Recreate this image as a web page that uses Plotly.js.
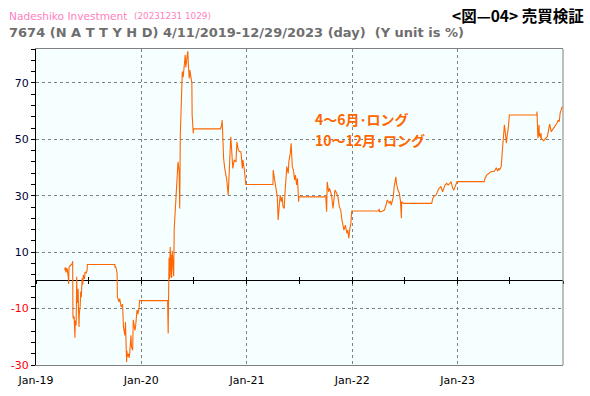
<!DOCTYPE html>
<html><head><meta charset="utf-8">
<script src="https://cdn.plot.ly/plotly-3.0.1.min.js"></script>
<style>html,body{margin:0;padding:0;background:#fff}#chart{width:590px;height:396px}</style>
</head><body><div id="chart"></div>
<script>
// ---- data ----
const dates = [
"2019-04-11","2019-04-12","2019-04-15","2019-04-16","2019-04-18","2019-04-19","2019-04-23","2019-04-24","2019-04-25","2019-04-26",
"2019-05-07","2019-05-08","2019-05-09","2019-05-10","2019-05-13","2019-05-14","2019-05-15","2019-05-16","2019-05-17","2019-05-20",
"2019-05-21","2019-05-22","2019-05-23","2019-05-24","2019-05-27","2019-05-28","2019-05-30","2019-05-31","2019-06-03","2019-06-05",
"2019-06-07","2019-06-10","2019-06-12","2019-06-14","2019-06-18","2019-06-20","2019-06-24","2019-06-27","2019-06-28","2019-09-30",
"2019-10-01","2019-10-02","2019-10-04","2019-10-09","2019-10-10","2019-10-15","2019-10-18","2019-10-23","2019-10-28","2019-10-31",
"2019-11-05","2019-11-07","2019-11-08","2019-11-11","2019-11-12","2019-11-14","2019-11-18","2019-11-20","2019-11-22","2019-11-26",
"2019-11-28","2019-12-02","2019-12-04","2019-12-06","2019-12-10","2019-12-12","2019-12-17","2019-12-20","2019-12-24","2019-12-26",
"2019-12-27","2020-04-01",
"2020-04-03","2020-04-06","2020-04-07","2020-04-08","2020-04-10","2020-04-13","2020-04-14","2020-04-15","2020-04-17","2020-04-20",
"2020-04-22","2020-04-24","2020-04-28","2020-05-01","2020-05-07","2020-05-11","2020-05-13","2020-05-15","2020-05-20","2020-05-22",
"2020-05-25","2020-05-28","2020-06-01","2020-06-03","2020-06-05","2020-06-08","2020-06-10","2020-06-12","2020-06-15","2020-06-17",
"2020-06-19","2020-06-24","2020-06-25","2020-06-26","2020-06-29","2020-06-30","2020-10-01",
"2020-10-05","2020-10-07","2020-10-09","2020-10-12","2020-10-16","2020-10-20","2020-10-23","2020-10-28","2020-10-30","2020-11-03",
"2020-11-06","2020-11-10","2020-11-13","2020-11-18","2020-11-24","2020-11-27","2020-12-02","2020-12-07","2020-12-11","2020-12-16",
"2020-12-18","2020-12-23","2020-12-28","2021-04-01",
"2021-04-02","2021-04-06","2021-04-09","2021-04-13","2021-04-16","2021-04-19","2021-04-22","2021-04-26","2021-04-30","2021-05-03",
"2021-05-06","2021-05-10","2021-05-13","2021-05-17","2021-05-19","2021-05-24","2021-05-26","2021-05-31","2021-06-03","2021-06-07",
"2021-06-11","2021-06-15","2021-06-18","2021-06-22","2021-06-25","2021-06-29","2021-06-30","2021-10-01",
"2021-10-04","2021-10-06","2021-10-11","2021-10-14","2021-10-18","2021-10-21","2021-10-26","2021-10-29","2021-11-02","2021-11-08",
"2021-11-12","2021-11-17","2021-11-22","2021-11-26","2021-11-30","2021-12-03","2021-12-08","2021-12-13","2021-12-16","2021-12-20",
"2021-12-23","2021-12-27","2021-12-30","2022-04-01",
"2022-04-04","2022-04-06","2022-04-15","2022-04-22","2022-04-28","2022-05-02","2022-05-09","2022-05-13","2022-05-16","2022-05-23",
"2022-05-26","2022-05-30","2022-06-01","2022-06-03","2022-06-08","2022-06-13","2022-06-17","2022-06-20","2022-06-21","2022-06-27",
"2022-10-03",
"2022-10-07","2022-10-12","2022-10-18","2022-10-24","2022-10-28","2022-11-04","2022-11-10","2022-11-14","2022-11-18","2022-11-24",
"2022-11-29","2022-12-05","2022-12-09","2022-12-15","2022-12-19","2022-12-23","2022-12-27","2022-12-30","2023-04-03",
"2023-04-06","2023-04-12","2023-04-20","2023-04-26","2023-05-08","2023-05-11","2023-05-15","2023-05-19","2023-05-24","2023-05-26",
"2023-06-01","2023-06-05","2023-06-08","2023-06-12","2023-06-14","2023-06-19","2023-06-21","2023-06-26","2023-06-29","2023-10-02",
"2023-10-03","2023-10-04","2023-10-05","2023-10-06","2023-10-10","2023-10-11","2023-10-12","2023-10-13","2023-10-16","2023-10-17",
"2023-10-18","2023-10-26","2023-10-30","2023-11-03","2023-11-08","2023-11-13","2023-11-16","2023-11-21","2023-11-27","2023-12-01",
"2023-12-05","2023-12-11","2023-12-15","2023-12-19","2023-12-22","2023-12-29"
];
const returns = [
3.6,4.6,2.8,4.4,3.2,4.2,1.0,-1.3,3.5,4.8,
6.0,6.8,-12.5,-13.5,-12.8,-15.5,-13.0,-20.3,-14.2,-16.0,
-9.0,1.3,-6.6,-8.0,-3.0,-9.5,-16.5,-12.0,-9.2,-4.0,
-6.0,0.7,-1.5,1.9,0.5,3.0,2.6,3.5,5.6,5.6,
5.6,4.5,5.0,2.5,-5.8,-7.6,-6.5,-9.4,-8.5,-16.5,
-19.5,-14.8,-24.1,-28.9,-25.0,-27.0,-26.0,-27.5,-25.5,-19.5,
-23.6,-24.8,-14.0,-15.5,-17.7,-16.5,-10.5,-12.0,-10.0,-7.0,
-7.2,-7.2,
-18.8,8.0,0.5,2.0,11.8,1.0,9.0,0.8,10.5,3.0,
1.5,18.4,25.5,33.8,42.0,38.5,25.5,51.5,63.3,74.0,
72.0,76.3,79.9,75.5,78.0,80.0,81.3,76.3,71.6,74.5,
72.8,69.9,58.6,55.0,52.1,53.7,53.7,
55.0,56.8,51.5,43.3,39.7,38.0,35.6,30.2,38.5,44.4,
50.9,43.3,39.7,42.7,42.0,49.1,46.2,45.6,45.6,39.7,
42.7,39.1,34.0,34.0,
39.1,36.2,33.8,32.6,29.6,21.4,24.9,30.2,27.9,29.6,
26.1,25.5,31.4,36.7,40.3,37.9,42.0,45.0,48.6,40.3,
39.1,35.6,37.3,33.8,36.2,27.9,29.6,29.6,
24.3,34.9,31.4,32.6,30.9,30.2,25.5,29.6,32.0,30.9,
29.6,26.1,24.9,21.4,19.0,17.8,19.6,16.7,17.8,14.9,
18.0,20.2,24.6,24.6,
25.3,24.3,24.5,24.9,26.7,28.5,27.3,28.2,26.7,29.6,
33.2,35.0,36.7,34.4,32.0,30.9,27.9,22.0,27.9,27.3,
27.3,
29.1,29.9,30.2,31.4,32.6,33.2,31.4,32.6,33.8,34.4,
33.8,34.4,35.0,32.6,32.0,33.2,34.4,35.0,35.0,
36.2,37.3,37.9,38.5,38.7,39.1,39.9,38.7,39.7,39.1,
40.3,46.2,52.1,55.1,53.3,48.6,50.9,54.5,58.6,58.6,
59.8,56.8,53.3,50.4,55.1,51.0,53.5,52.1,50.4,52.1,
50.2,49.5,50.0,50.4,51.0,53.9,55.4,52.7,53.6,53.9,
54.7,55.7,56.8,56.2,59.2,61.6
];
const yTickVals = [-30, -10, 10, 30, 50, 70];
const xTickVals = ["2019-01-01", "2020-01-01", "2021-01-01", "2022-01-01", "2023-01-01"];
const xRange = ["2019-01-01", "2024-01-01"];
const yRange = [-30, 82];
const titleLine1 = "Nadeshiko Investment";
const titleStamp = "(20231231 1029)";
const titleLine2 = "7674 (N A T T Y H D) 4/11/2019-12/29/2023 (day)  (Y unit is %)";
const figTitle = "<図—04> 売買検証";
const noteLines = ["4～6月･ロング", "10～12月･ロング"];

// ---- layout helpers ----
const W = 590, H = 396, L = 36, R = 27, T = 49, B = 31;
const pw = W - L - R, ph = H - T - B;
const px2x = p => (p - L) / pw;
const py2y = p => (H - B - p) / ph;
const yTickText = yTickVals.map(v => v < 0 ? '<span style="color:#ff0000">' + v + '</span>' : String(v));
const zeroPos = (0 - yRange[0]) / (yRange[1] - yRange[0]);

const latin = "DejaVu Sans, Verdana, sans-serif";
const cjk = "Noto Sans CJK JP, sans-serif";

const mainTrace = {
  x: dates, y: returns, type: 'scatter', mode: 'lines',
  line: {color: '#ff6600', width: 1.1}, hoverinfo: 'skip', showlegend: false
};
// invisible copies so the zero-line tick axes get drawn
const ghost = ax => ({x: dates, y: returns, xaxis: ax, yaxis: 'y', type: 'scatter', mode: 'lines',
  line: {width: 0, color: 'rgba(0,0,0,0)'}, opacity: 0, hoverinfo: 'skip', showlegend: false});

const tickAxis = (side) => ({
  type: 'date', overlaying: 'x', anchor: 'free', position: zeroPos,
  range: xRange, tick0: '2019-01-01', dtick: 'M6', ticks: side, ticklen: 3, tickwidth: 1,
  tickcolor: '#000', showticklabels: false, showgrid: false, showline: false, zeroline: false
});

const layout = {
  width: W, height: H,
  margin: {l: L, r: R, t: T, b: B, pad: 0},
  paper_bgcolor: '#ffffff', plot_bgcolor: '#f5ffff',
  showlegend: false,
  xaxis: {
    type: 'date', range: xRange, tickmode: 'array', tickvals: xTickVals, tickformat: '%b-%y',
    showgrid: true, gridcolor: '#808080', griddash: '3px,3px', gridwidth: 1,
    showline: true, linecolor: '#808080', linewidth: 1, mirror: true,
    ticks: '', zeroline: false, ticklabelstandoff: 5,
    tickfont: {family: latin, size: 11, color: '#000000'}
  },
  xaxis2: tickAxis('outside'),
  xaxis3: tickAxis('inside'),
  yaxis: {
    range: yRange, tickmode: 'array', tickvals: yTickVals, ticktext: yTickText,
    showgrid: true, gridcolor: '#808080', griddash: '3px,3px', gridwidth: 1,
    showline: true, linecolor: '#000000', linewidth: 1,
    ticks: 'outside', ticklen: 4, tickcolor: '#000', tickwidth: 1,
    minor: {tick0: -30, dtick: 4, ticks: 'outside', ticklen: 4, tickcolor: '#000', showgrid: false},
    zeroline: true, zerolinecolor: '#000000', zerolinewidth: 1,
    tickfont: {family: latin, size: 11, color: '#000033'}
  },
  shapes: [
    {type: 'line', xref: 'paper', yref: 'paper', x0: 1, x1: 1, y0: 0, y1: 1, line: {color: '#808080', width: 1}}
  ],
  annotations: [
    {text: titleLine1, xref: 'paper', yref: 'paper', x: px2x(7), y: py2y(16), xanchor: 'left', yanchor: 'middle',
     showarrow: false, font: {family: latin, size: 10.6, color: '#ff80c0'}},
    {text: titleStamp, xref: 'paper', yref: 'paper', x: px2x(132), y: py2y(16.5), xanchor: 'left', yanchor: 'middle',
     showarrow: false, font: {family: latin, size: 8.8, color: '#ff80c0'}},
    {text: '<b>' + titleLine2 + '</b>', xref: 'paper', yref: 'paper', x: px2x(7), y: py2y(33), xanchor: 'left', yanchor: 'middle',
     showarrow: false, font: {family: latin, size: 13, color: '#6e6e6e'}},
    {text: '<b>' + figTitle + '</b>', xref: 'paper', yref: 'paper', x: px2x(586), y: py2y(15), xanchor: 'right', yanchor: 'middle',
     showarrow: false, font: {family: cjk, size: 15.5, color: '#000000'}},
    {text: '<b>' + noteLines[0] + '</b>', xref: 'paper', yref: 'paper', x: px2x(313), y: py2y(119), xanchor: 'left', yanchor: 'middle',
     showarrow: false, font: {family: cjk, size: 14, color: '#ff6600'}},
    {text: '<b>' + noteLines[1] + '</b>', xref: 'paper', yref: 'paper', x: px2x(313), y: py2y(139.5), xanchor: 'left', yanchor: 'middle',
     showarrow: false, font: {family: cjk, size: 14, color: '#ff6600'}}
  ]
};

Plotly.newPlot('chart', [mainTrace, ghost('x2'), ghost('x3')], layout, {staticPlot: true, displayModeBar: false});
</script>
</body></html>
